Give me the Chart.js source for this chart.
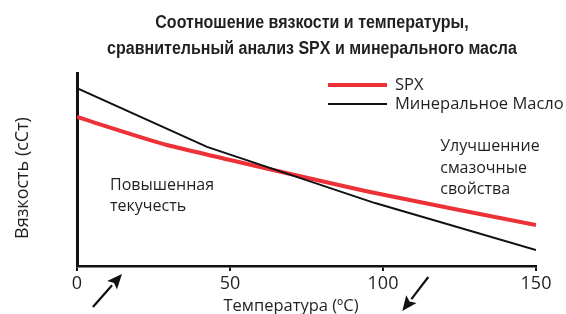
<!DOCTYPE html>
<html><head><meta charset="utf-8">
<script src="https://cdn.jsdelivr.net/npm/chart.js@4/dist/chart.umd.min.js"></script>
<style>html,body{margin:0;padding:0;background:#fff}#wrap{width:566px;height:314px}</style>
</head><body><div id="wrap"><canvas id="c"></canvas></div>
<script>
const titleLines = ["Соотношение вязкости и температуры,", "сравнительный анализ SPX и минерального масла"];
const xTitle = "Температура (ºC)";
const yTitle = "Вязкость (сСт)";
const xTicks = [0, 50, 100, 150];
const seriesNames = ["SPX", "Минеральное Масло"];
const spxX = [0, 29.4, 97.4, 150];
const spxY = [77.2, 62.7, 37.8, 21.2];
const minX = [0, 42.5, 97.4, 150];
const minY = [92.2, 61.7, 32.6, 8.3];
const noteLeft = ["Повышенная", "текучесть"];
const noteRight = ["Улучшенние", "смазочные", "свойства"];
const noteLeftPos = [10.8, 41.5];
const noteRightPos = [118.7, 61.7];

const TXT = '#231f20';
const FONT = "'Open Sans', sans-serif";

const decor = {
  id: 'decor',
  afterDraw(chart) {
    const {ctx, scales: {x, y}, chartArea: ca} = chart;
    ctx.save();
    // title (condensed)
    ctx.fillStyle = TXT;
    ctx.font = "bold 18px 'Liberation Sans', sans-serif";
    ctx.textAlign = 'center';
    ctx.textBaseline = 'alphabetic';
    titleLines.forEach((t, i) => {
      ctx.save();
      ctx.translate(312, 28 + i * 26);
      ctx.scale(0.89, 1);
      ctx.fillText(t, 0, 0);
      ctx.restore();
    });
    // axis titles
    ctx.font = "16.5px " + FONT;
    ctx.fillText(xTitle, 291, 311);
    ctx.save();
    ctx.translate(28, 178);
    ctx.rotate(-Math.PI / 2);
    ctx.font = "18px " + FONT;
    ctx.fillText(yTitle, 0, 0);
    ctx.restore();
    // notes
    ctx.font = "16px " + FONT;
    ctx.textBaseline = 'middle';
    ctx.textAlign = 'left';
    noteLeft.forEach((t, i) => ctx.fillText(t, x.getPixelForValue(noteLeftPos[0]), y.getPixelForValue(noteLeftPos[1]) + i * 21));
    noteRight.forEach((t, i) => ctx.fillText(t, x.getPixelForValue(noteRightPos[0]), y.getPixelForValue(noteRightPos[1]) + i * 21.5));
    // legend
    ctx.font = "16.5px " + FONT;
    chart.data.datasets.forEach((ds, i) => {
      const ly = ca.top + 12 + i * 19;
      ctx.strokeStyle = ds.borderColor;
      ctx.lineWidth = ds.borderWidth;
      ctx.beginPath();
      ctx.moveTo(328, ly); ctx.lineTo(387, ly); ctx.stroke();
      ctx.fillStyle = TXT;
      ctx.fillText(ds.label, 395, ly);
    });
    // arrows
    const arrow = (x1, y1, x2, y2) => {
      const a = Math.atan2(y2 - y1, x2 - x1);
      const hl = 15, hw = 6.5;
      const bx = x2 - hl * Math.cos(a), by = y2 - hl * Math.sin(a);
      ctx.strokeStyle = '#111'; ctx.fillStyle = '#111'; ctx.lineWidth = 2.2;
      ctx.beginPath(); ctx.moveTo(x1, y1); ctx.lineTo(bx, by); ctx.stroke();
      ctx.beginPath();
      ctx.moveTo(x2, y2);
      ctx.lineTo(bx + hw * Math.sin(a), by - hw * Math.cos(a));
      ctx.lineTo(bx + 3 * Math.cos(a), by + 3 * Math.sin(a));
      ctx.lineTo(bx - hw * Math.sin(a), by + hw * Math.cos(a));
      ctx.closePath(); ctx.fill();
    };
    arrow(x.getPixelForValue(5.2), 307, x.getPixelForValue(14.7), 274);
    arrow(x.getPixelForValue(114.8), 277, x.getPixelForValue(106.3), 311);
    ctx.restore();
  }
};

new Chart(document.getElementById('c'), {
  type: 'line',
  data: {
    datasets: [
      {label: seriesNames[0], data: spxX.map((v, i) => ({x: v, y: spxY[i]})), borderColor: '#ec3237', borderWidth: 4, pointRadius: 0, tension: 0.15, order: 2},
      {label: seriesNames[1], data: minX.map((v, i) => ({x: v, y: minY[i]})), borderColor: '#111111', borderWidth: 2, pointRadius: 0, tension: 0, order: 1}
    ]
  },
  options: {
    responsive: true, maintainAspectRatio: false, animation: false,
    layout: {padding: {left: 0, right: 30, top: 73, bottom: 0}},
    plugins: {legend: {display: false}, tooltip: {enabled: false}, title: {display: false}},
    scales: {
      x: {type: 'linear', min: 0, max: 150,
        afterBuildTicks: s => { s.ticks = xTicks.map(v => ({value: v})); },
        afterFit: s => { s.height = 48; },
        border: {display: true, color: '#111', width: 2.5},
        grid: {drawOnChartArea: false, drawTicks: true, tickLength: 5, color: '#111', lineWidth: 2},
        ticks: {color: TXT, font: {family: FONT, size: 18}, padding: 2, maxRotation: 0},
        title: {display: false}
      },
      y: {type: 'linear', min: 0, max: 100,
        afterFit: s => { s.width = 77; },
        border: {display: true, color: '#111', width: 3},
        grid: {display: false},
        ticks: {display: false},
        title: {display: false}
      }
    }
  },
  plugins: [decor]
});
</script></body></html>
